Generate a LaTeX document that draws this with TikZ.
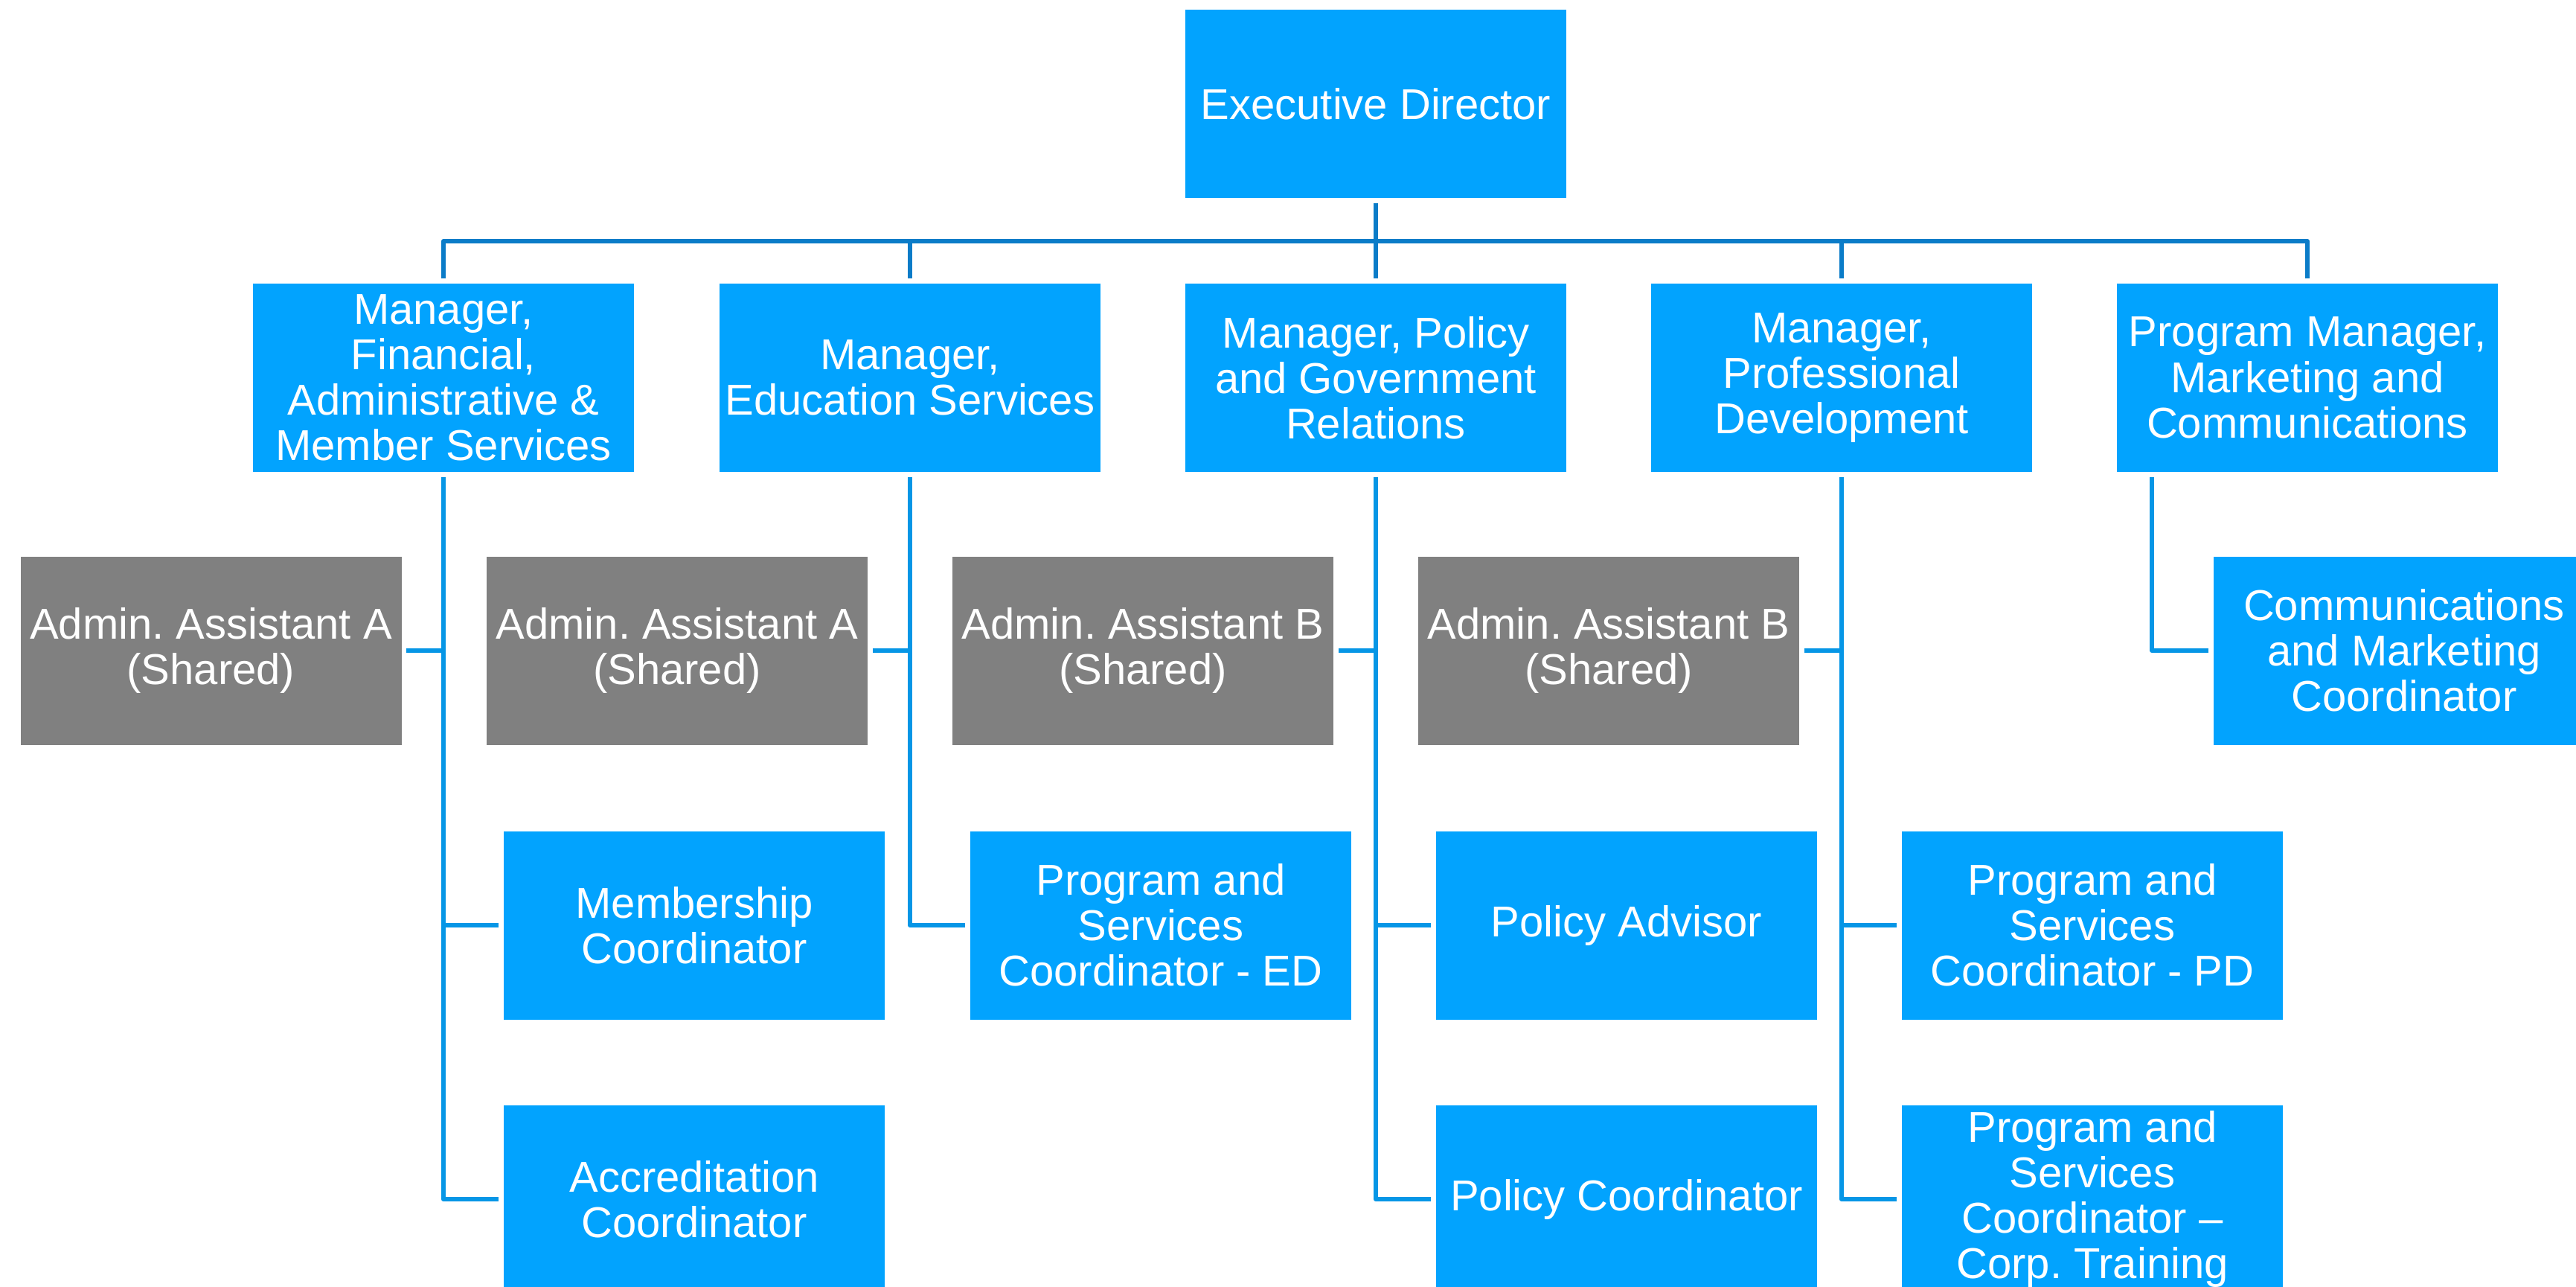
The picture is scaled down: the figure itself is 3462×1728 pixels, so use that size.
\documentclass[tikz,border=0pt]{standalone}
\usepackage{fontspec}
\setmainfont{Liberation Sans}
\frenchspacing
\definecolor{boxblue}{RGB}{2,163,254}
\definecolor{boxgray}{RGB}{128,128,128}
\definecolor{busblue}{RGB}{11,124,200}
\definecolor{linkblue}{RGB}{6,150,230}
\begin{document}
\begin{tikzpicture}[x=0.25pt,y=-0.25pt,
  card/.style={rectangle, fill=boxblue, text=white, inner sep=0pt,
    minimum width=128pt, minimum height=63.25pt, align=center,
    font=\fontsize{14.5}{15.3}\selectfont},
  graycard/.style={card, fill=boxgray},
  busline/.style={draw=busblue, line width=1.5pt, line join=round},
  link/.style={draw=linkblue, line width=1.6pt, line join=round}]
\useasboundingbox (0,0) rectangle (3462,1728);
% level 1
\node[card] (exec) at (1849,139.5) {Executive Director};
% level 2
\node[card] (m1) at (596,507.5) {Manager,\\Financial,\\Administrative \&\\Member Services};
\node[card] (m2) at (1223,507.5) {Manager,\\Education Services};
\node[card] (m3) at (1849,507.5) {Manager, Policy\\and Government\\Relations};
\node[card] (m4) at (2475,507.5) {Manager,\\Professional\\Development};
\node[card] (m5) at (3101,507.5) {Program Manager,\\Marketing and\\Communications};
% level 3
\node[graycard] (ga1) at (283.5,874) {Admin. Assistant A\\(Shared)};
\node[graycard] (ga2) at (910,874) {Admin. Assistant A\\(Shared)};
\node[graycard] (ga3) at (1536,874) {Admin. Assistant B\\(Shared)};
\node[graycard] (ga4) at (2162,874) {Admin. Assistant B\\(Shared)};
\node[card] (comm) at (3231,874) {Communications\\and Marketing\\Coordinator};
% level 4
\node[card] (memb) at (933,1243) {Membership\\Coordinator};
\node[card] (pse) at (1560,1243) {Program and\\Services\\Coordinator - ED};
\node[card] (padv) at (2186,1243) {Policy Advisor};
\node[card] (ppd) at (2812,1243) {Program and\\Services\\Coordinator - PD};
% level 5
\node[card] (acc) at (933,1611) {Accreditation\\Coordinator};
\node[card] (pcoord) at (2186,1611) {Policy Coordinator};
\node[card] (ptr) at (2812,1611) {Program and\\Services\\Coordinator --\\Corp. Training};
% bus
\coordinate (bus) at (1849,324);
\draw[busline] ([yshift=1.5pt]m1.north) |- (bus) -| ([yshift=1.5pt]m5.north);
\draw[busline] ([yshift=-1.5pt]exec.south) -- ([yshift=1.5pt]m3.north);
\draw[busline] (bus -| m2.north) -- ([yshift=1.5pt]m2.north);
\draw[busline] (bus -| m4.north) -- ([yshift=1.5pt]m4.north);
% manager 1
\draw[link] ([yshift=-1.5pt]m1.south) |- ([xshift=-1.5pt]acc.west);
\draw[link] ([xshift=1.5pt]ga1.east) -- (ga1.east -| m1.south);
\draw[link] (memb.west -| m1.south) -- ([xshift=-1.5pt]memb.west);
% manager 2
\draw[link] ([yshift=-1.5pt]m2.south) |- ([xshift=-1.5pt]pse.west);
\draw[link] ([xshift=1.5pt]ga2.east) -- (ga2.east -| m2.south);
% manager 3
\draw[link] ([yshift=-1.5pt]m3.south) |- ([xshift=-1.5pt]pcoord.west);
\draw[link] ([xshift=1.5pt]ga3.east) -- (ga3.east -| m3.south);
\draw[link] (padv.west -| m3.south) -- ([xshift=-1.5pt]padv.west);
% manager 4
\draw[link] ([yshift=-1.5pt]m4.south) |- ([xshift=-1.5pt]ptr.west);
\draw[link] ([xshift=1.5pt]ga4.east) -- (ga4.east -| m4.south);
\draw[link] (ppd.west -| m4.south) -- ([xshift=-1.5pt]ppd.west);
% manager 5
\draw[link] ([xshift=12pt,yshift=-1.5pt]m5.south west) |- ([xshift=-1.5pt]comm.west);
\end{tikzpicture}
\end{document}
